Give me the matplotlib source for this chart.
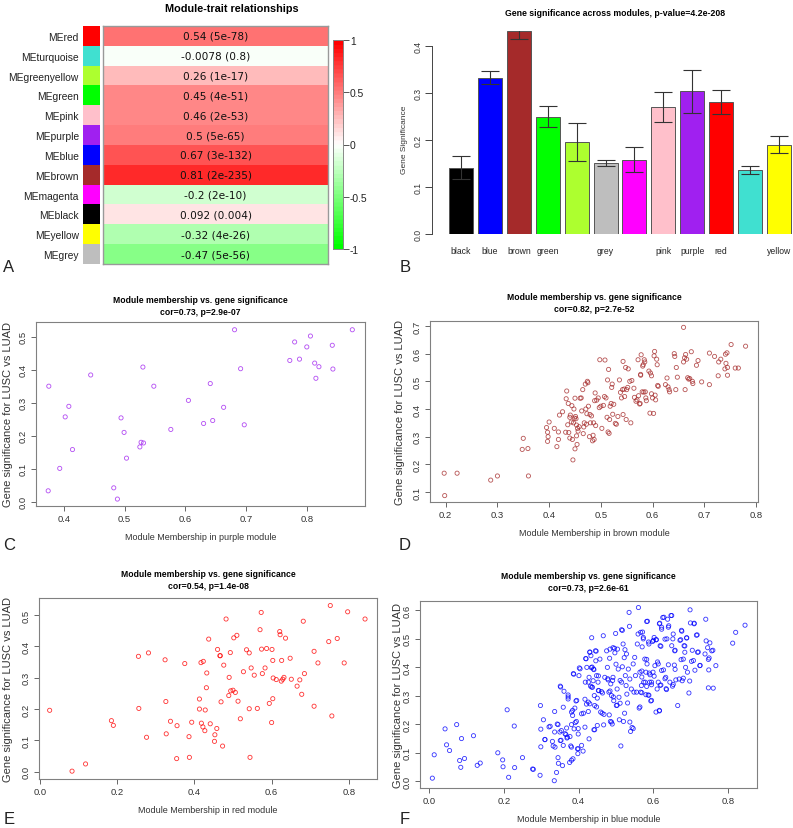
import matplotlib
matplotlib.use("Agg")
import matplotlib.pyplot as plt
import numpy as np
from matplotlib.colors import LinearSegmentedColormap, ListedColormap

plt.rcParams['font.family'] = ['Liberation Sans', 'DejaVu Sans']

W, H = 793, 829

# --- Panel A: module-trait relationships ---
me_names = ['MEred', 'MEturquoise', 'MEgreenyellow', 'MEgreen', 'MEpink', 'MEpurple',
            'MEblue', 'MEbrown', 'MEmagenta', 'MEblack', 'MEyellow', 'MEgrey']
me_colors = ['#FF0000', '#40E0D0', '#ADFF2F', '#00FF00', '#FFC0CB', '#A020F0',
             '#0000FF', '#A52A2A', '#FF00FF', '#000000', '#FFFF00', '#BEBEBE']
me_cor = [0.54, -0.0078, 0.26, 0.45, 0.46, 0.5, 0.67, 0.81, -0.2, 0.092, -0.32, -0.47]
me_p = ['5e-78', '0.8', '1e-17', '4e-51', '2e-53', '5e-65', '3e-132', '2e-235',
        '2e-10', '0.004', '4e-26', '5e-56']
cbar_ticks = [-1, -0.5, 0, 0.5, 1]
cbar_labels = ['-1', '-0.5', '0', '0.5', '1']

# --- Panel B: gene significance across modules ---
gs_modules = ['black', 'blue', 'brown', 'green', 'greenyellow', 'grey', 'magenta',
              'pink', 'purple', 'red', 'turquoise', 'yellow']
gs_colors = ['#000000', '#0000FF', '#A52A2A', '#00FF00', '#ADFF2F', '#BEBEBE', '#FF00FF',
             '#FFC0CB', '#A020F0', '#FF0000', '#40E0D0', '#FFFF00']
gs_mean = [0.141, 0.333, 0.432, 0.250, 0.196, 0.151, 0.158, 0.270, 0.304, 0.281, 0.136, 0.190]
gs_err = [0.024, 0.014, 0.016, 0.022, 0.041, 0.006, 0.027, 0.032, 0.046, 0.025, 0.008, 0.018]
# R drops the labels that would overlap
gs_shown = ['black', 'blue', 'brown', 'green', '', 'grey', '', 'pink', 'purple', 'red', '', 'yellow']

# --- Panel C: purple module ---
purple_pts = [
    (0.374, 0.033), (0.375, 0.350), (0.393, 0.101), (0.402, 0.257), (0.408, 0.289),
    (0.414, 0.158), (0.444, 0.384), (0.482, 0.042), (0.488, 0.008), (0.494, 0.254),
    (0.499, 0.210), (0.503, 0.132), (0.525, 0.166), (0.527, 0.180), (0.531, 0.178),
    (0.530, 0.408), (0.548, 0.350), (0.576, 0.219), (0.605, 0.307), (0.630, 0.237),
    (0.641, 0.358), (0.645, 0.246), (0.663, 0.286), (0.681, 0.521), (0.691, 0.403),
    (0.697, 0.233), (0.772, 0.428), (0.780, 0.484), (0.788, 0.432), (0.800, 0.469),
    (0.806, 0.502), (0.813, 0.420), (0.815, 0.374), (0.820, 0.409), (0.842, 0.474),
    (0.843, 0.402), (0.875, 0.521),
]

# --- Panel D: brown module ---
brown_pts = [
    (0.197, 0.168), (0.198, 0.087), (0.222, 0.168), (0.287, 0.143), (0.300, 0.158),
    (0.360, 0.158), (0.350, 0.294), (0.348, 0.254), (0.359, 0.257),
    (0.395, 0.333), (0.397, 0.316), (0.397, 0.283), (0.398, 0.300), (0.400, 0.353),
    (0.410, 0.330), (0.415, 0.264), (0.418, 0.317), (0.418, 0.290), (0.420, 0.378),
    (0.426, 0.390), (0.432, 0.316), (0.433, 0.437), (0.434, 0.465), (0.436, 0.343),
    (0.437, 0.420), (0.438, 0.315), (0.440, 0.295), (0.440, 0.370), (0.441, 0.378),
    (0.443, 0.353), (0.444, 0.412), (0.445, 0.290), (0.446, 0.216), (0.447, 0.350),
    (0.448, 0.400), (0.449, 0.367), (0.450, 0.439), (0.450, 0.256), (0.451, 0.373),
    (0.452, 0.365), (0.453, 0.342), (0.453, 0.303), (0.454, 0.272), (0.455, 0.330),
    (0.456, 0.320), (0.458, 0.336), (0.460, 0.439), (0.462, 0.440), (0.463, 0.393),
    (0.465, 0.470), (0.466, 0.311), (0.467, 0.335), (0.468, 0.350), (0.470, 0.490),
    (0.471, 0.400), (0.472, 0.345), (0.473, 0.383), (0.474, 0.500), (0.475, 0.495),
    (0.476, 0.410), (0.478, 0.300), (0.479, 0.380), (0.480, 0.350), (0.482, 0.375),
    (0.484, 0.285), (0.485, 0.305), (0.486, 0.350), (0.487, 0.290), (0.488, 0.430),
    (0.489, 0.458), (0.490, 0.340), (0.492, 0.432), (0.495, 0.440), (0.497, 0.405),
    (0.498, 0.578), (0.500, 0.410), (0.502, 0.330), (0.505, 0.413), (0.507, 0.445),
    (0.508, 0.577), (0.510, 0.440), (0.512, 0.370), (0.513, 0.505), (0.514, 0.317),
    (0.515, 0.543), (0.516, 0.312), (0.517, 0.362), (0.518, 0.410), (0.520, 0.420),
    (0.521, 0.478), (0.522, 0.490), (0.523, 0.381), (0.525, 0.417), (0.528, 0.348),
    (0.530, 0.345), (0.533, 0.373), (0.536, 0.505), (0.538, 0.460), (0.540, 0.440),
    (0.542, 0.470), (0.543, 0.380), (0.543, 0.572), (0.545, 0.472), (0.546, 0.445),
    (0.548, 0.550), (0.549, 0.362), (0.550, 0.470), (0.552, 0.478), (0.553, 0.545),
    (0.556, 0.500), (0.558, 0.350), (0.560, 0.503), (0.564, 0.475), (0.565, 0.442),
    (0.568, 0.428), (0.570, 0.433), (0.572, 0.578), (0.573, 0.448), (0.575, 0.418),
    (0.576, 0.420), (0.577, 0.522), (0.577, 0.525), (0.578, 0.596), (0.580, 0.462),
    (0.581, 0.555), (0.582, 0.560), (0.583, 0.461), (0.584, 0.578), (0.585, 0.570),
    (0.586, 0.462), (0.587, 0.440), (0.588, 0.430), (0.593, 0.537), (0.595, 0.385),
    (0.596, 0.530), (0.598, 0.520), (0.598, 0.455), (0.600, 0.440), (0.602, 0.384),
    (0.603, 0.592), (0.604, 0.608), (0.605, 0.450), (0.606, 0.433), (0.608, 0.580),
    (0.609, 0.560), (0.610, 0.485), (0.611, 0.482), (0.625, 0.488), (0.628, 0.512),
    (0.630, 0.480), (0.632, 0.470), (0.633, 0.462), (0.642, 0.600), (0.643, 0.590),
    (0.645, 0.470), (0.646, 0.550), (0.648, 0.515), (0.660, 0.695), (0.660, 0.570),
    (0.662, 0.585), (0.663, 0.470), (0.664, 0.597), (0.666, 0.580), (0.668, 0.513),
    (0.670, 0.508), (0.672, 0.510), (0.675, 0.607), (0.677, 0.500), (0.678, 0.492),
    (0.685, 0.558), (0.688, 0.575), (0.695, 0.498), (0.710, 0.602), (0.710, 0.488),
    (0.720, 0.590), (0.727, 0.520), (0.728, 0.570), (0.732, 0.580), (0.740, 0.545),
    (0.741, 0.598), (0.742, 0.565), (0.744, 0.603), (0.745, 0.550), (0.745, 0.522),
    (0.752, 0.633), (0.760, 0.548), (0.766, 0.548), (0.780, 0.627),
]

# --- Panel E: red module ---
red_pts = [
    (0.025, 0.196), (0.083, 0.002), (0.118, 0.025), (0.185, 0.163), (0.190, 0.148),
    (0.255, 0.368), (0.256, 0.202), (0.276, 0.110), (0.281, 0.379), (0.324, 0.357),
    (0.326, 0.224), (0.327, 0.121), (0.338, 0.161), (0.354, 0.042), (0.355, 0.147),
    (0.375, 0.345), (0.386, 0.112), (0.387, 0.046), (0.393, 0.158), (0.413, 0.232),
    (0.413, 0.200), (0.417, 0.348), (0.418, 0.155), (0.422, 0.143), (0.423, 0.352),
    (0.427, 0.131), (0.428, 0.197), (0.431, 0.268), (0.432, 0.315), (0.437, 0.423),
    (0.441, 0.153), (0.452, 0.097), (0.453, 0.118), (0.458, 0.138), (0.460, 0.390),
    (0.466, 0.370), (0.467, 0.370), (0.469, 0.223), (0.473, 0.082), (0.476, 0.340),
    (0.482, 0.487), (0.489, 0.243), (0.490, 0.301), (0.493, 0.380), (0.494, 0.258),
    (0.500, 0.260), (0.502, 0.427), (0.506, 0.253), (0.510, 0.435), (0.513, 0.225),
    (0.519, 0.169), (0.527, 0.319), (0.535, 0.389), (0.542, 0.379), (0.542, 0.201),
    (0.544, 0.046), (0.547, 0.331), (0.555, 0.308), (0.563, 0.202), (0.570, 0.453),
    (0.573, 0.508), (0.574, 0.391), (0.576, 0.313), (0.583, 0.331), (0.587, 0.393),
    (0.594, 0.218), (0.600, 0.157), (0.601, 0.390), (0.603, 0.355), (0.603, 0.233),
    (0.604, 0.299), (0.612, 0.294), (0.621, 0.447), (0.622, 0.437), (0.625, 0.289),
    (0.626, 0.355), (0.629, 0.295), (0.632, 0.301), (0.636, 0.426), (0.648, 0.362),
    (0.651, 0.295), (0.666, 0.273), (0.673, 0.293), (0.678, 0.247), (0.682, 0.480),
    (0.685, 0.313), (0.710, 0.384), (0.710, 0.209), (0.720, 0.347), (0.748, 0.415),
    (0.752, 0.530), (0.756, 0.178), (0.770, 0.425), (0.788, 0.347), (0.797, 0.510),
    (0.842, 0.487),
]

# --- Panel F: blue module ---
blue_pts = [
    (0.009, 0.010), (0.014, 0.092), (0.043, 0.183), (0.047, 0.127), (0.055, 0.107),
    (0.074, 0.198), (0.082, 0.072), (0.085, 0.048), (0.087, 0.149), (0.095, 0.079),
    (0.119, 0.159), (0.129, 0.055), (0.137, 0.063), (0.184, 0.099), (0.197, 0.074),
    (0.198, 0.050), (0.209, 0.250), (0.213, 0.013), (0.228, 0.193), (0.229, 0.047),
    (0.250, 0.082), (0.277, 0.042), (0.279, 0.041), (0.297, 0.020),
    (0.298, 0.265), (0.299, 0.182), (0.299, 0.120), (0.306, 0.215), (0.310, 0.146),
    (0.321, 0.190), (0.330, 0.139), (0.332, 0.123), (0.336, 0.244), (0.336, 0.172),
    (0.335, 0.001), (0.341, 0.030), (0.343, 0.200), (0.345, 0.198), (0.345, 0.082),
    (0.346, 0.062), (0.350, 0.172), (0.351, 0.333), (0.351, 0.142), (0.354, 0.177),
    (0.357, 0.054), (0.359, 0.259), (0.359, 0.125), (0.361, 0.315), (0.366, 0.163),
    (0.368, 0.186), (0.369, 0.151), (0.372, 0.302), (0.372, 0.288), (0.376, 0.065),
    (0.377, 0.156), (0.379, 0.123), (0.381, 0.242), (0.384, 0.230), (0.385, 0.078),
    (0.387, 0.375), (0.388, 0.183), (0.390, 0.256), (0.391, 0.205), (0.393, 0.281),
    (0.394, 0.209), (0.397, 0.113), (0.399, 0.165), (0.401, 0.370), (0.402, 0.397),
    (0.408, 0.125), (0.412, 0.105), (0.413, 0.238), (0.417, 0.287), (0.418, 0.347),
    (0.419, 0.430), (0.421, 0.270), (0.422, 0.399), (0.426, 0.277), (0.426, 0.244),
    (0.428, 0.148), (0.428, 0.364), (0.430, 0.452), (0.432, 0.333), (0.433, 0.440),
    (0.434, 0.398), (0.435, 0.503), (0.437, 0.329), (0.439, 0.352), (0.440, 0.393),
    (0.442, 0.300), (0.443, 0.180), (0.443, 0.265), (0.445, 0.457), (0.446, 0.422),
    (0.448, 0.370), (0.450, 0.195), (0.450, 0.291), (0.452, 0.347), (0.454, 0.317),
    (0.457, 0.428), (0.459, 0.242), (0.461, 0.314), (0.463, 0.238), (0.466, 0.510),
    (0.467, 0.197), (0.470, 0.364), (0.475, 0.457), (0.477, 0.399), (0.479, 0.355),
    (0.481, 0.312), (0.482, 0.232), (0.483, 0.431), (0.484, 0.463), (0.485, 0.209),
    (0.486, 0.341), (0.488, 0.300), (0.490, 0.200), (0.492, 0.468), (0.492, 0.364),
    (0.494, 0.282), (0.496, 0.466), (0.497, 0.450), (0.499, 0.518), (0.500, 0.410),
    (0.501, 0.265), (0.503, 0.323), (0.504, 0.463), (0.506, 0.393), (0.508, 0.294),
    (0.509, 0.215), (0.511, 0.273), (0.513, 0.123), (0.515, 0.347), (0.517, 0.529),
    (0.517, 0.401), (0.519, 0.481), (0.520, 0.209), (0.522, 0.433), (0.523, 0.238),
    (0.524, 0.461), (0.525, 0.370), (0.527, 0.335), (0.528, 0.446), (0.529, 0.305),
    (0.531, 0.274), (0.533, 0.393), (0.535, 0.592), (0.536, 0.543), (0.537, 0.358),
    (0.539, 0.174), (0.541, 0.323), (0.543, 0.188), (0.546, 0.411), (0.548, 0.312),
    (0.550, 0.434), (0.552, 0.370), (0.555, 0.312), (0.557, 0.481), (0.559, 0.516),
    (0.560, 0.609), (0.562, 0.256), (0.564, 0.382), (0.566, 0.522), (0.566, 0.312),
    (0.568, 0.335), (0.570, 0.471), (0.573, 0.504), (0.574, 0.347), (0.577, 0.428),
    (0.580, 0.382), (0.582, 0.560), (0.583, 0.411), (0.586, 0.302), (0.588, 0.481),
    (0.590, 0.347), (0.591, 0.373), (0.593, 0.281), (0.595, 0.338), (0.598, 0.490),
    (0.599, 0.382), (0.602, 0.504), (0.604, 0.405), (0.607, 0.242), (0.608, 0.496),
    (0.610, 0.323), (0.613, 0.411), (0.616, 0.248), (0.617, 0.554), (0.618, 0.475),
    (0.620, 0.337), (0.622, 0.533), (0.625, 0.574), (0.627, 0.390), (0.631, 0.498),
    (0.633, 0.364), (0.635, 0.321), (0.638, 0.568), (0.640, 0.408), (0.641, 0.545),
    (0.644, 0.347), (0.647, 0.581), (0.649, 0.475), (0.651, 0.333), (0.653, 0.516),
    (0.656, 0.407), (0.657, 0.457), (0.660, 0.355), (0.665, 0.265), (0.669, 0.358),
    (0.673, 0.496), (0.675, 0.529), (0.677, 0.352), (0.680, 0.428), (0.682, 0.475),
    (0.684, 0.452), (0.686, 0.399), (0.689, 0.503), (0.691, 0.382), (0.695, 0.309),
    (0.697, 0.351), (0.698, 0.601), (0.699, 0.555), (0.702, 0.420), (0.704, 0.459),
    (0.709, 0.554), (0.711, 0.389), (0.715, 0.512), (0.718, 0.452), (0.724, 0.405),
    (0.738, 0.446), (0.740, 0.568), (0.741, 0.492), (0.745, 0.468), (0.747, 0.427),
    (0.748, 0.390), (0.751, 0.485), (0.756, 0.457), (0.760, 0.326), (0.767, 0.405),
    (0.812, 0.484), (0.820, 0.522), (0.845, 0.547),
    # denser core
    (0.515, 0.531), (0.430, 0.453), (0.447, 0.456), (0.420, 0.429), (0.436, 0.400),
    (0.441, 0.391), (0.404, 0.394), (0.386, 0.377), (0.453, 0.369), (0.478, 0.359),
    (0.491, 0.353), (0.426, 0.347), (0.435, 0.330), (0.453, 0.318), (0.484, 0.316),
    (0.511, 0.353), (0.352, 0.330), (0.372, 0.295), (0.395, 0.283), (0.430, 0.271),
    (0.448, 0.260), (0.468, 0.234), (0.464, 0.309), (0.493, 0.295), (0.503, 0.266),
    (0.488, 0.207), (0.537, 0.207), (0.384, 0.248), (0.408, 0.236), (0.324, 0.192),
    (0.381, 0.198), (0.399, 0.184), (0.417, 0.189), (0.441, 0.180), (0.364, 0.166),
    (0.310, 0.145), (0.353, 0.143), (0.370, 0.154), (0.337, 0.119), (0.381, 0.119),
    (0.399, 0.113), (0.398, 0.096), (0.381, 0.073), (0.546, 0.184),
    (0.628, 0.575), (0.649, 0.581), (0.584, 0.561), (0.616, 0.552), (0.709, 0.552),
    (0.571, 0.523), (0.622, 0.540), (0.640, 0.540), (0.652, 0.499), (0.636, 0.499),
    (0.676, 0.526), (0.689, 0.502), (0.717, 0.513), (0.573, 0.499), (0.587, 0.488),
    (0.600, 0.494), (0.607, 0.496), (0.620, 0.473), (0.671, 0.494), (0.684, 0.474),
    (0.658, 0.459), (0.720, 0.453), (0.759, 0.459), (0.749, 0.432), (0.725, 0.406),
    (0.707, 0.423), (0.674, 0.426), (0.611, 0.418), (0.582, 0.427), (0.658, 0.392),
    (0.622, 0.388), (0.602, 0.368), (0.589, 0.379), (0.569, 0.386), (0.569, 0.365),
    (0.631, 0.359), (0.680, 0.361), (0.613, 0.347), (0.595, 0.347), (0.578, 0.347),
    (0.582, 0.332), (0.618, 0.336), (0.634, 0.324), (0.653, 0.339), (0.569, 0.310),
    (0.580, 0.303), (0.588, 0.301), (0.595, 0.283), (0.747, 0.327), (0.616, 0.246),
    (0.564, 0.260),
]


def px_axes(fig, left, top, right, bottom):
    return fig.add_axes([left / W, 1 - bottom / H, (right - left) / W, (bottom - top) / H])


def px_text(fig, x, y, s, **kw):
    return fig.text(x / W, 1 - y / H, s, **kw)


fig = plt.figure(figsize=(W / 100, H / 100), dpi=100)
fig.patch.set_facecolor('white')

# ---------------- Panel A ----------------
gwr = LinearSegmentedColormap.from_list('gwr', ['#00FF00', '#FFFFFF', '#FF0000'], N=50)
n = len(me_names)

ax_sw = px_axes(fig, 83, 27, 100, 265)
ax_sw.imshow(np.arange(n)[:, None], cmap=ListedColormap(me_colors), aspect='auto',
             interpolation='nearest')
ax_sw.set_xticks([])
ax_sw.set_yticks(range(n))
ax_sw.set_yticklabels(me_names, fontsize=7.4, color='#222222')
ax_sw.tick_params(axis='y', length=0, pad=3)
for s in ax_sw.spines.values():
    s.set_visible(False)

ax_hm = px_axes(fig, 103, 27, 328, 265)
ax_hm.imshow(np.array(me_cor)[:, None], cmap=gwr, vmin=-1, vmax=1, aspect='auto',
             interpolation='nearest')
for i, (c, p) in enumerate(zip(me_cor, me_p)):
    ax_hm.text(0, i, f"{c} ({p})", ha='center', va='center', fontsize=7.6,
               family='DejaVu Sans', color='#111111')
ax_hm.set_xticks([])
ax_hm.set_yticks([])
for s in ax_hm.spines.values():
    s.set_color('#999999')
    s.set_linewidth(1.0)

ax_cb = px_axes(fig, 333, 41, 343, 250)
ax_cb.imshow(np.linspace(1, -1, 256)[:, None], cmap=gwr, vmin=-1, vmax=1, aspect='auto',
             extent=[0, 1, -1, 1])
ax_cb.set_xticks([])
ax_cb.yaxis.tick_right()
ax_cb.set_yticks(cbar_ticks)
ax_cb.set_yticklabels(cbar_labels, fontsize=7.4, color='#222222')
ax_cb.tick_params(axis='y', length=4, width=0.7, color='#555555', pad=1)
for s in ax_cb.spines.values():
    s.set_color('#888888')
    s.set_linewidth(0.7)

px_text(fig, 232, 9, 'Module-trait relationships', ha='center', va='center',
        fontsize=7.8, fontweight='bold')

# ---------------- Panel B ----------------
ax_b = px_axes(fig, 445, 32, 792, 235)
xpos = 0.7 + 1.2 * np.arange(len(gs_modules))
ax_b.bar(xpos, gs_mean, width=1.0, color=gs_colors, edgecolor='#555555', linewidth=0.7)
ax_b.errorbar(xpos, gs_mean, yerr=gs_err, fmt='none', ecolor='#333333',
              elinewidth=0.8, capsize=6.5, capthick=0.8)
ax_b.set_xlim(0.2 - 4 / 24.08, 14.4 + 1 / 24.08)
ax_b.set_ylim(0, 0.432)
for k in ['top', 'right', 'bottom']:
    ax_b.spines[k].set_visible(False)
ax_b.spines['left'].set_position(('outward', 9.4))
ax_b.spines['left'].set_bounds(0, 0.4)
ax_b.spines['left'].set_color('#444444')
ax_b.spines['left'].set_linewidth(0.7)
ax_b.set_yticks([0.0, 0.1, 0.2, 0.3, 0.4])
ax_b.set_yticklabels(['0.0', '0.1', '0.2', '0.3', '0.4'], fontsize=6.2, color='#333333',
                     rotation=90, va='center')
ax_b.tick_params(axis='y', length=5, width=0.7, color='#444444', pad=1.5)
ax_b.set_xticks(xpos)
ax_b.set_xticklabels(gs_shown, fontsize=6.2, color='#222222')
ax_b.tick_params(axis='x', length=0, pad=9)
px_text(fig, 404, 140, 'Gene Significance', rotation=90, ha='center', va='center',
        fontsize=6, color='#333333')
px_text(fig, 615, 14, 'Gene significance across modules, p-value=4.2e-208',
        ha='center', va='center', fontsize=6.3, fontweight='bold')


# ---------------- Scatter panels ----------------
def scatter_panel(box, pts, color, module, stats, xlim, ylim, xticks, yticks, xfmt,
                  title_y, xlabel_y, ylabel_x):
    left, top, right, bottom = box
    ax = px_axes(fig, left, top, right, bottom)
    arr = np.array(pts)
    ax.scatter(arr[:, 0], arr[:, 1], s=9, facecolors='none', edgecolors=color,
               linewidths=0.6, alpha=0.8)
    ax.set_xlim(*xlim)
    ax.set_ylim(*ylim)
    ax.set_xticks(xticks)
    ax.set_xticklabels([xfmt.format(t) for t in xticks], fontsize=6.8, color='#333333')
    ax.set_yticks(yticks)
    ax.set_yticklabels([f"{t:.1f}" for t in yticks], fontsize=6.8, color='#333333',
                       rotation=90, va='center')
    ax.tick_params(length=3.5, width=0.7, color='#666666', pad=2.5)
    for s in ax.spines.values():
        s.set_color('#808080')
        s.set_linewidth(0.8)
    cx = (left + right) / 2
    px_text(fig, cx, title_y, 'Module membership vs. gene significance\n' + stats,
            ha='center', va='center', fontsize=6.2, fontweight='bold', linespacing=1.3)
    px_text(fig, cx, xlabel_y, f'Module Membership in {module} module', ha='center',
            va='center', fontsize=6.5, color='#333333')
    px_text(fig, ylabel_x, (top + bottom) / 2, 'Gene significance for LUSC vs LUAD',
            rotation=90, ha='center', va='center', fontsize=8, color='#333333')
    return ax


scatter_panel((36, 323, 365, 507), purple_pts, '#A020F0', 'purple', 'cor=0.73, p=2.9e-07',
              (0.3539, 0.8959), (-0.013, 0.5445), [0.4, 0.5, 0.6, 0.7, 0.8],
              [0.0, 0.1, 0.2, 0.3, 0.4, 0.5], '{:.1f}', 306.5, 538, 8)

scatter_panel((430, 322, 758, 503), brown_pts, '#A52A2A', 'brown', 'cor=0.82, p=2.7e-52',
              (0.1696, 0.804), (0.0639, 0.718), [0.2, 0.3, 0.4, 0.5, 0.6, 0.7, 0.8],
              [0.1, 0.2, 0.3, 0.4, 0.5, 0.6, 0.7], '{:.1f}', 303.5, 534, 400)

scatter_panel((39, 599, 377, 780), red_pts, '#FF0000', 'red', 'cor=0.54, p=1.4e-08',
              (-0.0026, 0.873), (-0.023, 0.554), [0.0, 0.2, 0.4, 0.6, 0.8],
              [0.0, 0.1, 0.2, 0.3, 0.4, 0.5], '{:.1f}', 580.5, 811, 8)

scatter_panel((420, 602, 757, 789), blue_pts, '#0000FF', 'blue', 'cor=0.73, p=2.6e-61',
              (-0.024, 0.877), (-0.0246, 0.632), [0.0, 0.2, 0.4, 0.6, 0.8],
              [0.0, 0.1, 0.2, 0.3, 0.4, 0.5, 0.6], '{:.1f}', 582.5, 820, 398)

# panel letters
for letter, x, y in [('A', 9, 267), ('B', 405, 268), ('C', 9, 545), ('D', 405, 545),
                     ('E', 9, 820), ('F', 405, 820)]:
    px_text(fig, x, y, letter, ha='center', va='center', fontsize=12, color='#222222')

fig.savefig('out.png', dpi=100, facecolor='white')
